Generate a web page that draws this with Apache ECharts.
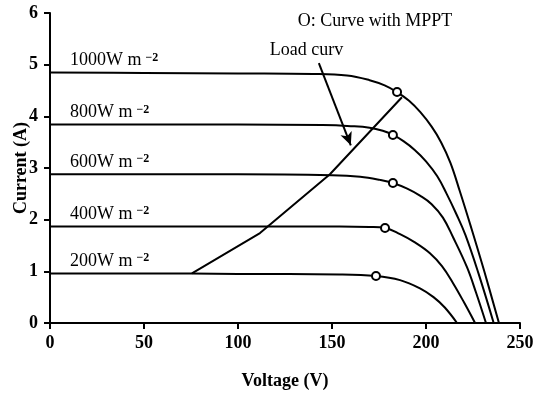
<!DOCTYPE html>
<html>
<head>
<meta charset="utf-8">
<script src="https://cdn.jsdelivr.net/npm/echarts@6/dist/echarts.min.js"></script>
<style>
  html, body { margin: 0; padding: 0; background: #fff; }
  #chart { width: 539px; height: 393px; }
</style>
</head>
<body>
<div id="chart"></div>
<script>
// I–V characteristics of the PV array at five irradiance levels: [voltage V, current A]
const curve1000 = [[0, 4.85], [50, 4.84], [100, 4.83], [140, 4.82], [158, 4.79], [170, 4.70], [178, 4.60], [184.6, 4.47], [191, 4.30], [197, 4.08], [203, 3.80], [208, 3.50], [213, 3.10], [218, 2.55], [224, 1.85], [231, 1.00], [238.8, 0]];
const curve800 = [[0, 3.84], [50, 3.84], [100, 3.84], [145, 3.83], [160, 3.81], [170, 3.78], [177, 3.72], [182.4, 3.64], [188, 3.52], [194, 3.35], [200, 3.13], [206, 2.84], [211, 2.50], [216, 2.12], [221, 1.70], [228, 0.95], [236, 0]];
const curve600 = [[0, 2.88], [50, 2.88], [100, 2.88], [150, 2.86], [165, 2.83], [175.5, 2.77], [182.4, 2.71], [190, 2.60], [197, 2.46], [203, 2.30], [209, 2.04], [214.4, 1.66], [221.8, 1.08], [226.6, 0.59], [231.9, 0]];
const curve400 = [[0, 1.87], [50, 1.87], [100, 1.87], [154, 1.87], [170, 1.86], [178.2, 1.84], [186.2, 1.72], [194.1, 1.56], [202.1, 1.35], [208.5, 1.10], [214.4, 0.77], [220.2, 0.40], [226.1, 0]];
const curve200 = [[0, 0.96], [50, 0.96], [100, 0.95], [154, 0.94], [173.4, 0.91], [186.2, 0.83], [196.8, 0.67], [204, 0.50], [210, 0.30], [216.5, 0]];
const curveNames = ['1000', '800', '600', '400', '200'];

// Maximum power points tracked on each curve
const mppPoints = [[184.6, 4.47], [182.4, 3.64], [182.4, 2.71], [178.2, 1.84], [173.4, 0.91]];

// Load line
const loadCurve = [[75.5, 0.96], [111.7, 1.74], [148.9, 2.88], [187.2, 4.37]];

// Pointer from the "Load curv" caption to the load line
const loadArrow = [[143, 5.03], [160, 3.44]];

// Axis ticks
const voltageTicks = [0, 50, 100, 150, 200, 250];
const currentTicks = [0, 1, 2, 3, 4, 5, 6];

const FONT = "'Liberation Serif', 'Times New Roman', serif";
const INK = '#000';

const chart = echarts.init(document.getElementById('chart'), null, { renderer: 'canvas' });

const curves = [curve1000, curve800, curve600, curve400, curve200];

const series = curves.map((data, k) => ({
  name: curveNames[k] + ' W m-2',
  type: 'line',
  data: data,
  smooth: 0.4,
  showSymbol: false,
  symbol: 'none',
  lineStyle: { color: INK, width: 2 },
  silent: true,
  z: 2
}));

series.push({
  name: 'Load curve',
  type: 'line',
  data: loadCurve,
  showSymbol: false,
  symbol: 'none',
  lineStyle: { color: INK, width: 2 },
  silent: true,
  z: 2,
  markLine: {
    silent: true,
    symbol: ['none', 'arrow'],
    symbolSize: [9, 13],
    label: { show: false },
    lineStyle: { color: INK, width: 2, type: 'solid' },
    data: [[{ coord: loadArrow[0] }, { coord: loadArrow[1] }]]
  }
});

series.push({
  name: 'MPPT',
  type: 'scatter',
  data: mppPoints,
  symbol: 'circle',
  symbolSize: 8,
  itemStyle: { color: '#fff', borderColor: INK, borderWidth: 2, opacity: 1 },
  silent: true,
  z: 5
});

const option = {
  animation: false,
  backgroundColor: '#fff',
  grid: { left: 50, right: 19, top: 13, bottom: 70, containLabel: false, outerBoundsMode: 'none' },
  xAxis: {
    type: 'value',
    min: voltageTicks[0],
    max: voltageTicks[voltageTicks.length - 1],
    interval: voltageTicks[1] - voltageTicks[0],
    name: 'Voltage (V)',
    nameLocation: 'middle',
    nameGap: 49,
    nameMoveOverlap: false,
    nameTextStyle: { fontFamily: FONT, fontSize: 18, fontWeight: 'bold', color: INK },
    axisLine: { show: true, onZero: false, lineStyle: { color: INK, width: 2 } },
    axisTick: { show: true, inside: false, length: 6, lineStyle: { color: INK, width: 2 } },
    axisLabel: { fontFamily: FONT, fontSize: 18, fontWeight: 'bold', color: INK, margin: 11 },
    splitLine: { show: false }
  },
  yAxis: {
    type: 'value',
    min: currentTicks[0],
    max: currentTicks[currentTicks.length - 1],
    interval: currentTicks[1] - currentTicks[0],
    name: 'Current (A)',
    nameLocation: 'middle',
    nameGap: 20,
    nameMoveOverlap: false,
    nameTextStyle: { fontFamily: FONT, fontSize: 18, fontWeight: 'bold', color: INK },
    axisLine: { show: true, onZero: false, lineStyle: { color: INK, width: 2 } },
    axisTick: { show: true, inside: false, length: 6, lineStyle: { color: INK, width: 2 } },
    axisLabel: { fontFamily: FONT, fontSize: 18, fontWeight: 'bold', color: INK, margin: 12 },
    splitLine: { show: false }
  },
  series: series
};

chart.setOption(option);

// Captions placed relative to the plotted data
const toPx = (p) => chart.convertToPixel({ gridIndex: 0 }, p);
const graphics = [];

curves.forEach((data, k) => {
  const p = toPx(data[0]);
  graphics.push({
    type: 'text',
    x: p[0] + 20,
    y: p[1] - 3,
    silent: true,
    style: {
      text: '{b|' + curveNames[k] + 'W m}{s|−2}',
      verticalAlign: 'bottom',
      align: 'left',
      rich: {
        b: { fontFamily: FONT, fontSize: 18, color: INK, lineHeight: 18 },
        s: { fontFamily: FONT, fontSize: 12, fontWeight: 'bold', color: INK, verticalAlign: 'top', padding: [0, 0, 0, 4], lineHeight: 12 }
      }
    }
  });
});

const arrowStart = toPx(loadArrow[0]);
graphics.push({
  type: 'text',
  x: arrowStart[0] - 49,
  y: arrowStart[1] - 13,
  silent: true,
  style: { text: 'Load curv', fontFamily: FONT, fontSize: 18, fill: INK, align: 'left', verticalAlign: 'middle' }
});

graphics.push({
  type: 'text',
  x: 375,
  y: 21,
  silent: true,
  style: { text: 'O: Curve with MPPT', fontFamily: FONT, fontSize: 18, fill: INK, align: 'center', verticalAlign: 'middle' }
});

chart.setOption({ graphic: graphics });
</script>
</body>
</html>
